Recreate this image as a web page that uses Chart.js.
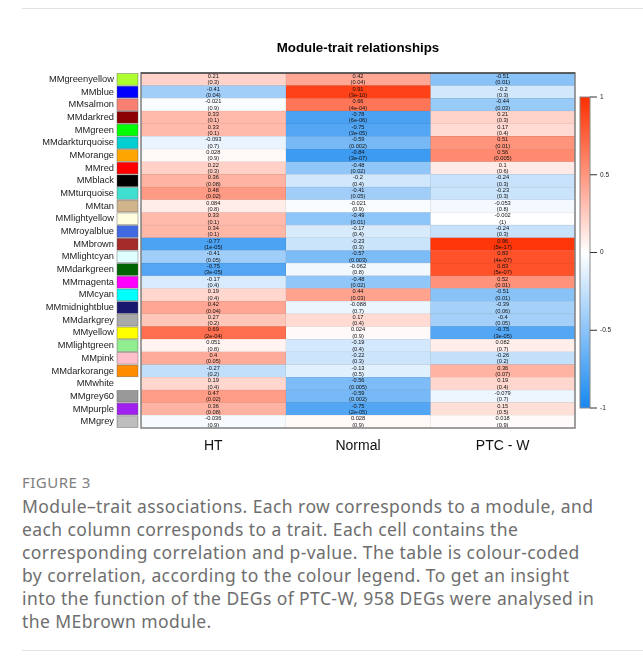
<!DOCTYPE html>
<html>
<head>
<meta charset="utf-8">
<script src="https://cdn.jsdelivr.net/npm/chart.js@4/dist/chart.umd.min.js"></script>
<style>
  html, body { margin: 0; padding: 0; background: #fff; }
  body { width: 643px; height: 659px; position: relative; overflow: hidden; }
  #frame-top { position: absolute; left: 22px; right: 0; top: 8px; border-top: 1px solid #e2e2e2; }
  #frame-bottom { position: absolute; left: 22px; right: 0; top: 650px; border-top: 1px solid #e2e2e2; }
  #chart-box { position: absolute; left: 0; top: 0; width: 643px; height: 470px; }
  #fig-label { position: absolute; left: 22px; top: 472px; font: 15px "Noto Sans", "Open Sans", sans-serif; color: #808080; letter-spacing: 0.5px; }
  #caption { position: absolute; left: 22px; top: 495px; font: 17.5px "Noto Sans", "Open Sans", sans-serif; line-height: 23px; color: #6e6e6e; white-space: nowrap; letter-spacing: 0.42px; }
</style>
</head>
<body>
<div id="frame-top"></div>
<div id="chart-box"><canvas id="heat"></canvas></div>
<div id="fig-label">FIGURE 3</div>
<div id="caption">
Module–trait associations. Each row corresponds to a module, and<br>
each column corresponds to a trait. Each cell contains the<br>
corresponding correlation and p-value. The table is colour-coded<br>
by correlation, according to the colour legend. To get an insight<br>
into the function of the DEGs of PTC-W, 958 DEGs were analysed in<br>
the MEbrown module.
</div>
<div id="frame-bottom"></div>
<script>
// module (row) names, top to bottom
const modules = ["MMgreenyellow", "MMblue", "MMsalmon", "MMdarkred", "MMgreen", "MMdarkturquoise",
  "MMorange", "MMred", "MMblack", "MMturquoise", "MMtan", "MMlightyellow", "MMroyalblue", "MMbrown",
  "MMlightcyan", "MMdarkgreen", "MMmagenta", "MMcyan", "MMmidnightblue", "MMdarkgrey", "MMyellow",
  "MMlightgreen", "MMpink", "MMdarkorange", "MMwhite", "MMgrey60", "MMpurple", "MMgrey"];

const traits = ["HT", "Normal", "PTC - W"];

// correlations per trait
const corHT = [0.21, -0.41, -0.021, 0.33, 0.33, -0.093, 0.028, 0.22, 0.36, 0.48, 0.084, 0.33, 0.34, -0.77,
  -0.41, -0.75, -0.17, 0.19, 0.42, 0.27, 0.69, 0.051, 0.4, -0.27, 0.19, 0.47, 0.36, -0.036];
const corNormal = [0.42, 0.91, 0.66, -0.78, -0.75, -0.59, -0.84, -0.48, -0.2, -0.41, -0.021, -0.49, -0.17, -0.23,
  -0.57, -0.062, -0.48, 0.44, -0.088, 0.17, 0.024, -0.19, -0.22, -0.13, -0.56, -0.59, -0.75, 0.028];
const corPTC = [-0.51, -0.2, -0.44, 0.21, 0.17, 0.51, 0.56, 0.1, -0.24, -0.23, -0.053, -0.002, -0.24, 0.96,
  0.83, 0.83, 0.52, -0.51, -0.39, -0.4, -0.75, 0.082, -0.26, 0.36, 0.19, -0.079, 0.15, 0.018];

// p-values as printed
const pHT = ["0.3", "0.04", "0.9", "0.1", "0.1", "0.7", "0.9", "0.3", "0.08", "0.02", "0.8", "0.1", "0.1", "1e-05",
  "0.05", "3e-05", "0.4", "0.4", "0.04", "0.2", "2e-04", "0.8", "0.05", "0.2", "0.4", "0.02", "0.08", "0.9"];
const pNormal = ["0.04", "3e-10", "4e-04", "6e-06", "3e-05", "0.002", "3e-07", "0.02", "0.4", "0.05", "0.9", "0.01", "0.4", "0.3",
  "0.003", "0.8", "0.02", "0.03", "0.7", "0.4", "0.9", "0.4", "0.3", "0.5", "0.005", "0.002", "2e-05", "0.9"];
const pPTC = ["0.01", "0.3", "0.03", "0.3", "0.4", "0.01", "0.005", "0.6", "0.3", "0.3", "0.8", "1", "0.3", "5e-17",
  "4e-07", "5e-07", "0.01", "0.01", "0.06", "0.05", "3e-05", "0.7", "0.2", "0.07", "0.4", "0.7", "0.5", "0.9"];

const colorbarTicks = [1, 0.5, 0, -0.5, -1];

// module swatch colours (R colour names)
const swatch = {
  MMgreenyellow: "#ADFF2F", MMblue: "#0000FF", MMsalmon: "#FA8072", MMdarkred: "#8B0000", MMgreen: "#00FF00",
  MMdarkturquoise: "#00CED1", MMorange: "#FFA500", MMred: "#FF0000", MMblack: "#000000", MMturquoise: "#40E0D0",
  MMtan: "#D2B48C", MMlightyellow: "#FFFFE0", MMroyalblue: "#4169E1", MMbrown: "#A52A2A", MMlightcyan: "#E0FFFF",
  MMdarkgreen: "#006400", MMmagenta: "#FF00FF", MMcyan: "#00FFFF", MMmidnightblue: "#191970", MMdarkgrey: "#A9A9A9",
  MMyellow: "#FFFF00", MMlightgreen: "#90EE90", MMpink: "#FFC0CB", MMdarkorange: "#FF8C00", MMwhite: "#FFFFFF",
  MMgrey60: "#999999", MMpurple: "#A020F0", MMgrey: "#BEBEBE"
};

const cors = [corHT, corNormal, corPTC];
const pvals = [pHT, pNormal, pPTC];

const NEG = [24, 136, 240], POS = [255, 46, 0];
function heatColor(v, dark) {
  const end = v < 0 ? NEG : POS;
  const t = Math.min(1, Math.abs(v));
  let c = end.map(e => 255 + (e - 255) * t);
  if (dark) c = c.map(x => x * 0.9);
  return `rgb(${c.map(Math.round).join(",")})`;
}

const datasets = traits.map((tr, j) => ({
  label: tr,
  data: modules.map(m => ({ x: [j - 0.5, j + 0.5], y: m })),
  backgroundColor: cors[j].map(v => heatColor(v, false)),
  borderColor: cors[j].map(v => heatColor(v, true)),
  borderWidth: 0.6,
  borderSkipped: false,
  grouped: false,
  barPercentage: 1,
  categoryPercentage: 1
}));

const heatDecor = {
  id: "heatDecor",
  afterDatasetsDraw(chart) {
    const ctx = chart.ctx;
    const a = chart.chartArea;
    const ys = chart.scales.y;
    ctx.save();
    // cell texts
    ctx.fillStyle = "#111";
    ctx.font = "5.7px 'Liberation Sans', Arial, sans-serif";
    ctx.textAlign = "center";
    ctx.textBaseline = "middle";
    chart.data.datasets.forEach((ds, j) => {
      chart.getDatasetMeta(j).data.forEach((bar, i) => {
        const cx = (bar.x + bar.base) / 2;
        ctx.fillText(String(cors[j][i]), cx, bar.y - 3);
        ctx.fillText("(" + pvals[j][i] + ")", cx, bar.y + 3.4);
      });
    });
    // frame
    ctx.strokeStyle = "#808080";
    ctx.lineWidth = 1.5;
    ctx.strokeRect(a.left, a.top, a.right - a.left, a.bottom - a.top);
    ctx.strokeStyle = "#222";
    ctx.lineWidth = 1;
    ctx.beginPath(); ctx.moveTo(a.left, a.top); ctx.lineTo(a.right, a.top); ctx.stroke();
    // module swatches
    const h = ys.getPixelForValue(1) - ys.getPixelForValue(0);
    modules.forEach((m, i) => {
      const yc = ys.getPixelForValue(i);
      ctx.fillStyle = swatch[m];
      ctx.fillRect(a.left - 24, yc - h / 2 + 0.5, 21, h - 1);
      if (m !== "MMwhite") {
        ctx.strokeStyle = "rgba(90,90,90,0.6)";
        ctx.lineWidth = 0.7;
        ctx.strokeRect(a.left - 24, yc - h / 2 + 0.5, 21, h - 1);
      }
    });
    // title
    ctx.fillStyle = "#000";
    ctx.font = "bold 13.3px 'Liberation Sans', Arial, sans-serif";
    ctx.textAlign = "center";
    ctx.fillText("Module-trait relationships", (a.left + a.right) / 2, 48);
    // colour bar
    const cx = 580, cw = 10, top = 97, bot = 408;
    const g = ctx.createLinearGradient(0, top, 0, bot);
    g.addColorStop(0, heatColor(1));
    g.addColorStop(0.5, "rgb(255,255,255)");
    g.addColorStop(1, heatColor(-1));
    ctx.fillStyle = g;
    ctx.fillRect(cx, top, cw, bot - top);
    ctx.strokeStyle = "#888";
    ctx.lineWidth = 1;
    ctx.strokeRect(cx, top, cw, bot - top);
    ctx.font = "6.5px 'Liberation Sans', Arial, sans-serif";
    ctx.textAlign = "left";
    ctx.fillStyle = "#222";
    colorbarTicks.forEach(t => {
      const y = top + (1 - t) / 2 * (bot - top);
      ctx.strokeStyle = "#333";
      ctx.beginPath(); ctx.moveTo(cx + cw, y); ctx.lineTo(cx + cw + 7, y); ctx.stroke();
      ctx.fillText(String(t), cx + cw + 10, y);
    });
    ctx.restore();
  }
};

new Chart(document.getElementById("heat"), {
  type: "bar",
  data: { labels: modules, datasets },
  options: {
    indexAxis: "y",
    responsive: true,
    maintainAspectRatio: false,
    animation: false,
    layout: { padding: { top: 73, right: 68, left: 0, bottom: 0 } },
    plugins: { legend: { display: false }, tooltip: { enabled: false }, title: { display: false } },
    scales: {
      x: {
        type: "linear", min: -0.5, max: 2.5,
        afterFit(s) { s.height = 42; },
        afterBuildTicks(s) { s.ticks = [0, 1, 2].map(v => ({ value: v })); },
        ticks: {
          padding: 10, color: "#111",
          font: { size: 14, family: "'Liberation Sans', Arial, sans-serif" },
          callback: v => traits[v]
        },
        grid: { display: false, drawTicks: false },
        border: { display: false }
      },
      y: {
        type: "category",
        afterFit(s) { s.width = 141; },
        ticks: {
          padding: 27, color: "#222", autoSkip: false,
          font: { size: 9.3, family: "'Liberation Sans', Arial, sans-serif" }
        },
        grid: { display: false, drawTicks: false },
        border: { display: false }
      }
    }
  },
  plugins: [heatDecor]
});
</script>
</body>
</html>
